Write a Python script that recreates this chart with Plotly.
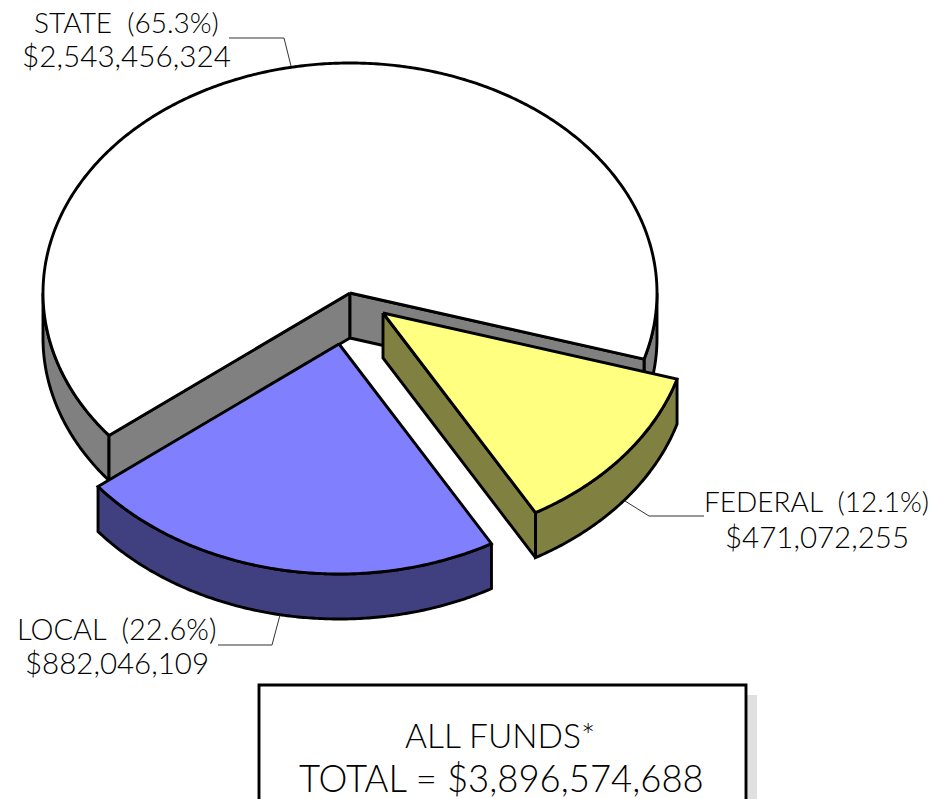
import numpy as np
import plotly.graph_objects as go

names = ["FEDERAL", "LOCAL", "STATE"]
amounts = [471072255, 882046109, 2543456324]

FONT = "Lato"
W, H = 951, 799
CX, CY, RX, RY, DEPTH = 350.0, 293.0, 307.0, 230.0, 45.0
START_DEG = 16.7
EXPLODE = {"FEDERAL": (33, 20), "LOCAL": (-11, 51), "STATE": (0, 0)}
TOP = {"FEDERAL": "#FFFF80", "LOCAL": "#8080FF", "STATE": "#FFFFFF"}
SIDE = {"FEDERAL": "#808040", "LOCAL": "#404080", "STATE": "#808080"}
LW = 2.9

total = sum(amounts)
spans = {}
a = START_DEG
for n, v in zip(names, amounts):
    b = a + 360.0 * v / total
    spans[n] = (a, b)
    a = b


def arc(n, t0, t1, dy=0.0):
    ox, oy = EXPLODE[n]
    t = np.radians(np.linspace(t0, t1, max(int(abs(t1 - t0) * 2), 2)))
    return CX + ox + RX * np.cos(t), CY + oy + dy + RY * np.sin(t)


def rim(n, t):
    ox, oy = EXPLODE[n]
    r = np.radians(t)
    return CX + ox + RX * np.cos(r), CY + oy + RY * np.sin(r)


fig = go.Figure()


def poly(xs, ys, fill, lw=LW):
    fig.add_trace(go.Scatter(x=list(xs), y=list(ys), mode="lines", fill="toself", fillcolor=fill,
                             line=dict(color="black", width=lw, simplify=False), hoverinfo="skip",
                             showlegend=False))


def outer_wall(n, t0, t1):
    x1, y1 = arc(n, t0, t1)
    x2, y2 = arc(n, t1, t0, DEPTH)
    poly(np.r_[x1, x2, x1[0]], np.r_[y1, y2, y1[0]], SIDE[n])


def cut_wall(n, t):
    ox, oy = EXPLODE[n]
    ax, ay = CX + ox, CY + oy
    ex, ey = rim(n, t)
    poly([ax, ex, ex, ax, ax], [ay, ey, ey + DEPTH, ay + DEPTH, ay], SIDE[n])


def top(n):
    t0, t1 = spans[n]
    ox, oy = EXPLODE[n]
    x, y = arc(n, t0, t1)
    poly(np.r_[CX + ox, x, CX + ox], np.r_[CY + oy, y, CY + oy], TOP[n])


# STATE (back)
s0, s1 = spans["STATE"]
outer_wall("STATE", s0, 180)
outer_wall("STATE", 360, s1)
cut_wall("STATE", s0)
cut_wall("STATE", s1)
top("STATE")
# FEDERAL
f0, f1 = spans["FEDERAL"]
outer_wall("FEDERAL", f0, f1)
cut_wall("FEDERAL", f1)
top("FEDERAL")
# LOCAL
l0, l1 = spans["LOCAL"]
outer_wall("LOCAL", l0, l1)
top("LOCAL")

leaders = {
    "STATE": ([229, 284, 291], [38, 38, 66]),
    "FEDERAL": ([704, 649, 625], [516, 516, 501]),
    "LOCAL": ([218, 272, 280], [645, 645, 615]),
}
for n, (lx, ly) in leaders.items():
    fig.add_trace(go.Scatter(x=lx, y=ly, mode="lines", line=dict(color="#333333", width=1),
                             hoverinfo="skip", showlegend=False))

# x centre, y of line 1, y of line 2, size of line 1, size of line 2
label_pos = {
    "STATE": (126, 22, 55, 28, 29.7),
    "FEDERAL": (816.5, 501, 536, 28, 29.5),
    "LOCAL": (116.5, 628, 662, 29, 29.5),
}
annotations = []


def txt(x, y, s, size):
    annotations.append(dict(x=x, y=y, xref="x", yref="y", text=s, showarrow=False, xanchor="center",
                            yanchor="middle", font=dict(family=FONT, size=size, color="#000000", weight=300)))


for n, v in zip(names, amounts):
    x, y1, y2, s1_, s2_ = label_pos[n]
    txt(x, y1, f"{n}  ({100 * v / total:.1f}%)", s1_)
    txt(x, y2, f"${v:,}", s2_)

txt(500, 735, "ALL FUNDS*", 33.5)
txt(501, 777.5, f"TOTAL = ${total:,}", 36.5)

shapes = [
    dict(type="rect", x0=746, x1=757, y0=695, y1=810, xref="x", yref="y", fillcolor="#E0E0E0", line=dict(width=0)),
    dict(type="rect", x0=259, x1=746, y0=685, y1=830, xref="x", yref="y", fillcolor="white",
         line=dict(color="black", width=2.9)),
]

fig.update_layout(
    width=W, height=H, margin=dict(l=0, r=0, t=0, b=0), paper_bgcolor="white", plot_bgcolor="white",
    xaxis=dict(range=[0, W], visible=False, fixedrange=True),
    yaxis=dict(range=[H, 0], visible=False, fixedrange=True),
    shapes=shapes, annotations=annotations, showlegend=False,
)
fig.write_html("out.html", config={"displayModeBar": False},
               post_script="document.body.style.margin='0';")
